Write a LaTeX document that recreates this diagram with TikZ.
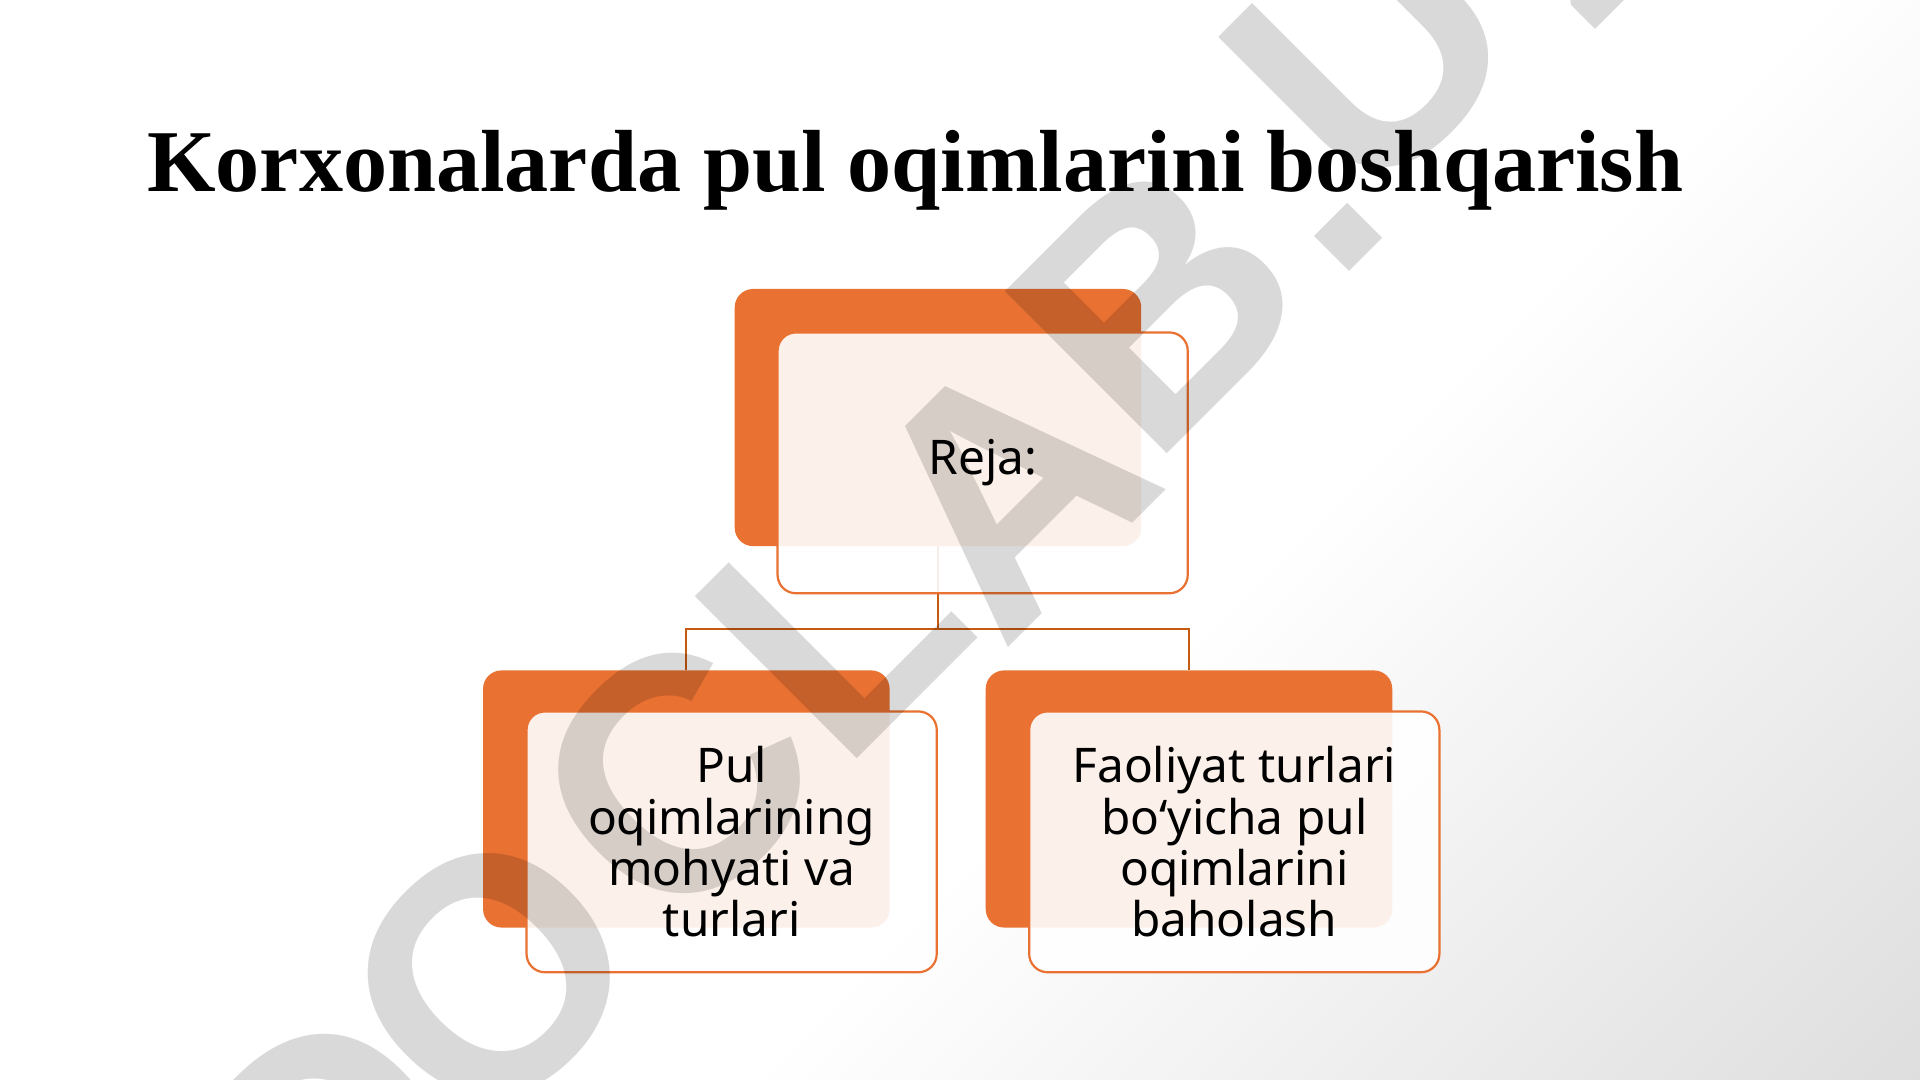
\documentclass[tikz,border=0pt]{standalone}
\usepackage{fontspec}
\setmainfont{Noto Sans}
\newfontfamily\titlefont{Liberation Serif}
\newfontfamily\wmfont{Liberation Sans}
\definecolor{orng}{RGB}{233,113,50}
\definecolor{connc}{RGB}{197,90,17}
\begin{document}
\begin{tikzpicture}[x=1pt,y=-1pt,
  backbox/.style={fill=orng, rounded corners=15pt, minimum width=332pt, minimum height=210pt, inner sep=0pt},
  frontbox/.style={draw=orng, line width=1.8pt, fill=white, fill opacity=0.9, text opacity=1,
    rounded corners=15pt, minimum width=335pt, minimum height=213pt, inner sep=0pt,
    align=center, font=\fontsize{39}{42}\selectfont},
  conn/.style={draw=connc, line width=1.8pt},
  wm/.style={font=\wmfont\bfseries\fontsize{272}{272}\selectfont, text=black, text opacity=0.15, rotate=45, inner sep=0pt}]
\useasboundingbox (0,0) rectangle (1568,882);
% background: white with a light grey fade toward the lower right corner
\fill[white] (0,0) rectangle (1568,882);
\begin{scope}
  \clip (0,0) rectangle (1568,882);
  \begin{scope}[transform canvas={rotate=-45}]
    \shade[left color=white, right color=black!13] (1056,-1200) rectangle (1735,700);
  \end{scope}
\end{scope}

\node[anchor=base west, inner sep=0pt, font=\titlefont\bfseries\fontsize{72}{80}\selectfont] (title) at (120,156) {Korxonalarda pul oqimlarini boshqarish};

% back boxes
\node[backbox] (tback) at (766,341) {};
\node[backbox] (lback) at (560.5,652.5) {};
\node[backbox] (rback) at (971,652.5) {};

% connectors
\coordinate (hub) at (766,514);
\draw[conn] (tback.south) -- (hub);
\draw[conn] (lback.north) |- (hub) -| (rback.north);

% front boxes
\node[frontbox] (tfront) at (802.5,378) {Reja:};
\node[frontbox] (lfront) at (597.5,687.5) {Pul\\oqimlarining\\mohyati va\\turlari};
\node[frontbox] (rfront) at (1008,687.5) {Faoliyat turlari\\bo‘yicha pul\\oqimlarini\\baholash};

% watermark
\node[wm] (w1) at (268,937) {D};
\node[wm] (w2) at (400,796) {O};
\node[wm] (w3) at (552,636) {C};
\node[wm] (w4) at (680,508) {L};
\node[wm] (w5) at (822,398) {A};
\node[wm] (w6) at (944,248) {B};
\node[wm] (w7) at (1101,194) {.};
\node[wm] (w8) at (1120,40) {U};
\node[wm] (w9) at (1290,-95) {Z};
\end{tikzpicture}
\end{document}
